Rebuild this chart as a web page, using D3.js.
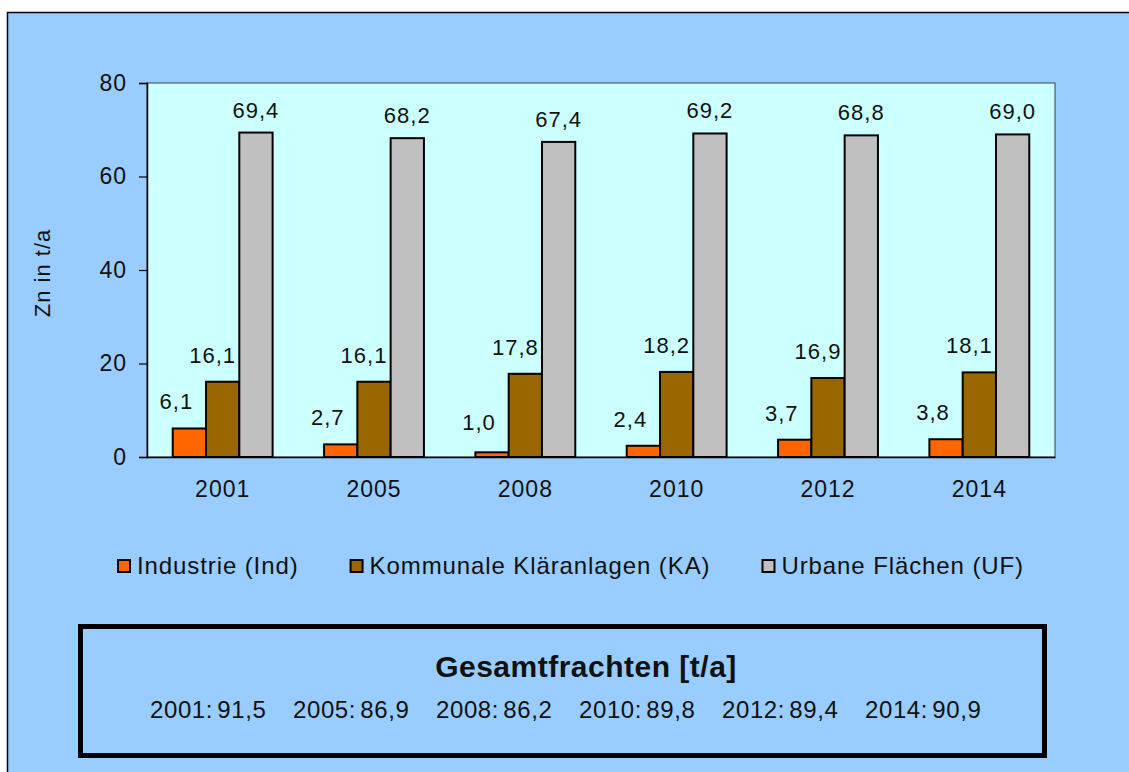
<!DOCTYPE html>
<html>
<head>
<meta charset="utf-8">
<script src="https://cdn.jsdelivr.net/npm/d3@7"></script>
<style>
  body { margin: 0; background: #fff; }
  svg text { font-family: Arial, "Liberation Sans", sans-serif; fill: #111; }
</style>
</head>
<body>
<div id="chart"></div>
<script>
// data
const years = ["2001", "2005", "2008", "2010", "2012", "2014"];
const seriesNames = ["Industrie (Ind)", "Kommunale Kläranlagen (KA)", "Urbane Flächen (UF)"];
const industrie = [6.1, 2.7, 1.0, 2.4, 3.7, 3.8];
const kommunal = [16.1, 16.1, 17.8, 18.2, 16.9, 18.1];
const urban = [69.4, 68.2, 67.4, 69.2, 68.8, 69.0];
const totals = [91.5, 86.9, 86.2, 89.8, 89.4, 90.9];
const yTicks = [0, 20, 40, 60, 80];

const colors = ["#ff6600", "#996600", "#c0c0c0"],
  labelDx = [-13, -10, 0],
  series = [industrie, kommunal, urban];

const fmt = v => v.toFixed(1).replace(".", ",");

function drawChart(cWidth, cHeight) {
  const margin = { left: 147, top: 83, right: 74, bottom: 315 },
    w = cWidth - margin.left - margin.right,
    h = cHeight - margin.top - margin.bottom,
    svg = d3
      .select("#chart")
      .append("svg")
      .attr("width", cWidth)
      .attr("height", cHeight);

  //outer panel
  svg
    .append("rect")
    .attr("x", 7.5)
    .attr("y", 12.5)
    .attr("width", cWidth + 20)
    .attr("height", cHeight + 20)
    .attr("fill", "#99ccff")
    .attr("stroke", "#000")
    .attr("stroke-width", 1.5);

  const g = svg
      .append("g")
      .attr("transform", `translate(${margin.left}, ${margin.top})`),
    x0 = d3.scaleBand().domain(years).range([0, w]),
    x1 = d3
      .scaleBand()
      .domain(d3.range(series.length))
      .range([x0.bandwidth() * 0.17, x0.bandwidth() * 0.83]),
    y = d3.scaleLinear().domain([0, 80]).range([h, 0]);

  // plot area
  g.append("rect")
    .attr("width", w)
    .attr("height", h)
    .attr("fill", "#ccffff")
    .attr("stroke", "#404040")
    .attr("stroke-width", 1);

  const yAxis = g
    .append("g")
    .call(d3.axisLeft(y).tickValues(yTicks).tickSize(8).tickPadding(12));
  yAxis.select(".domain").attr("stroke", "#000").attr("stroke-width", 1.5);
  yAxis.selectAll(".tick line").attr("stroke", "#000").attr("stroke-width", 1.2);
  yAxis
    .selectAll(".tick text")
    .attr("font-size", 23)
    .style("letter-spacing", "1px")
    .attr("fill", "#111");

  const xAxis = g
    .append("g")
    .attr("transform", `translate(0, ${h})`)
    .call(d3.axisBottom(x0).tickSize(0).tickPadding(24));
  xAxis.select(".domain").attr("stroke", "#000").attr("stroke-width", 1.5);
  xAxis
    .selectAll(".tick text")
    .attr("font-size", 23)
    .style("letter-spacing", "1px")
    .attr("fill", "#111");

  //bars
  const groups = g
    .selectAll(".grp")
    .data(years)
    .enter()
    .append("g")
    .attr("transform", d => `translate(${x0(d)}, 0)`);

  series.forEach((s, si) => {
    groups
      .append("rect")
      .attr("x", x1(si))
      .attr("width", x1.bandwidth())
      .attr("y", (_, i) => y(s[i]))
      .attr("height", (_, i) => h - y(s[i]))
      .attr("fill", colors[si])
      .attr("stroke", "#000")
      .attr("stroke-width", 2);

    groups
      .append("text")
      .attr("x", x1(si) + x1.bandwidth() / 2 + labelDx[si])
      .attr("y", (_, i) =>
        si === 2 ? y(s[i]) - 15 : Math.min(y(s[i]) - 19, h - 27)
      )
      .attr("text-anchor", "middle")
      .attr("font-size", 22)
      .style("letter-spacing", "1px")
      .text((_, i) => fmt(s[i]));
  });

  // y title
  svg
    .append("text")
    .attr("transform", `translate(50, ${margin.top + h / 2 + 3}) rotate(-90)`)
    .attr("text-anchor", "middle")
    .attr("font-size", 22)
    .style("letter-spacing", "1px")
    .text("Zn in t/a");

  //legend
  const legend = svg.append("g").attr("transform", "translate(117, 559)");
  let lx = 0;
  seriesNames.forEach((name, i) => {
    const item = legend.append("g").attr("transform", `translate(${lx}, 0)`);
    item
      .append("rect")
      .attr("x", 1)
      .attr("y", 1)
      .attr("width", 12)
      .attr("height", 12)
      .attr("fill", colors[i])
      .attr("stroke", "#000")
      .attr("stroke-width", 2);
    const t = item
      .append("text")
      .attr("x", 20)
      .attr("y", 15)
      .attr("font-size", 24)
      .style("letter-spacing", "0.9px")
      .text(name);
    lx += 20 + t.node().getComputedTextLength() + 51;
  });

  // totals box
  svg
    .append("rect")
    .attr("x", 80.5)
    .attr("y", 626.5)
    .attr("width", 964)
    .attr("height", 129)
    .attr("fill", "#99ccff")
    .attr("stroke", "#000")
    .attr("stroke-width", 5);

  svg
    .append("text")
    .attr("x", 586)
    .attr("y", 677)
    .attr("text-anchor", "middle")
    .attr("font-size", 30)
    .attr("font-weight", "bold")
    .style("letter-spacing", "0.5px")
    .text("Gesamtfrachten [t/a]");

  const xt = d3.scalePoint().domain(years).range([150, 865]);
  svg
    .selectAll(".tot")
    .data(years)
    .enter()
    .append("text")
    .attr("x", d => xt(d))
    .attr("y", 718)
    .attr("font-size", 24)
    .style("letter-spacing", "0.6px")
    .style("word-spacing", "-3px")
    .text((d, i) => `${d}: ${fmt(totals[i])}`);
}

drawChart(1129, 772);
</script>
</body>
</html>
